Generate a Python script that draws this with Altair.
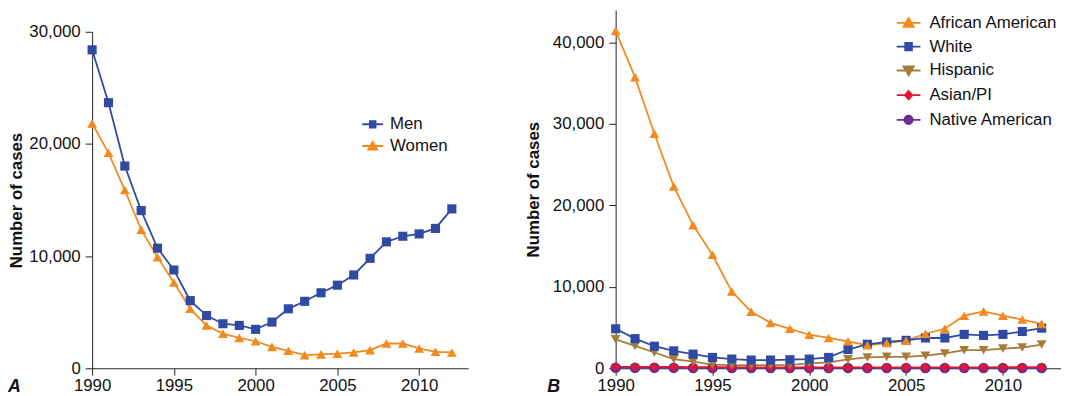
import altair as alt
import pandas as pd

# ---------------- data ----------------
years = list(range(1990, 2013))

men = [28390, 23680, 18030, 14060, 10710, 8760, 6030, 4700, 3970, 3820, 3470, 4120,
       5300, 5970, 6730, 7410, 8320, 9800, 11270, 11770, 11980, 12470, 14210]
women = [21830, 19210, 15890, 12360, 9910, 7650, 5300, 3820, 3090, 2710, 2410, 1910,
         1560, 1170, 1240, 1300, 1410, 1620, 2210, 2210, 1770, 1470, 1410]

african_american = [41420, 35760, 28810, 22340, 17580, 13940, 9420, 6950, 5580, 4850,
                    4120, 3720, 3310, 2830, 3100, 3400, 4240, 4850, 6460, 6990, 6460,
                    5980, 5450]
white = [4850, 3640, 2710, 2140, 1740, 1330, 1130, 1010, 1010, 1050, 1130, 1330, 2300,
         2950, 3230, 3430, 3720, 3720, 4160, 4040, 4160, 4520, 4930]
hispanic = [3560, 2750, 1940, 1130, 810, 450, 400, 380, 380, 420, 610, 730, 1090, 1330,
            1410, 1410, 1540, 1820, 2220, 2220, 2420, 2550, 2910]
asian_pi = [180, 170, 160, 160, 150, 140, 130, 120, 120, 110, 110, 110, 110, 110, 110,
            110, 110, 120, 120, 120, 130, 130, 140]
native_american = [60, 60, 50, 50, 40, 40, 40, 30, 30, 30, 30, 30, 30, 30, 30, 30, 30,
                   30, 30, 40, 40, 40, 40]

x_ticks = [1990, 1995, 2000, 2005, 2010]
y_ticks_a = [0, 10000, 20000, 30000]
y_ticks_b = [0, 10000, 20000, 30000, 40000]

series_a = ["Men", "Women"]
series_b = ["African American", "White", "Hispanic", "Asian/PI", "Native American"]

# ---------------- styles ----------------
BLUE = "#2f4aa3"
ORANGE = "#f28a1f"
BROWN = "#a67c3a"
RED = "#e3162f"
PURPLE = "#6b2d91"
FONT = "Liberation Sans"

colors_a = [BLUE, ORANGE]
shapes_a = ["square", "triangle-up"]
sizes_a = [85, 100]
colors_b = [ORANGE, BLUE, BROWN, RED, PURPLE]
shapes_b = ["triangle-up", "square", "triangle-down", "diamond", "circle"]
sizes_b = [100, 85, 100, 85, 115]


def hatch(rows):
    return "".join(f"M{-w:.3f},{y:.3f}H{w:.3f}" for y, w in rows)


# legend glyphs: a line segment plus a marker drawn with stroke only
LEG_PATH = {
    "square": "M-1,0H1" + hatch([(y, 0.36) for y in (-0.3, -0.18, -0.06, 0.06, 0.18, 0.3)]),
    "triangle-up": "M-1,0H1M0,-0.4L0.42,0.33H-0.42Z" + hatch(
        [(-0.3, 0.056), (-0.18, 0.123), (-0.06, 0.19), (0.06, 0.258), (0.18, 0.325), (0.3, 0.38)]),
    "triangle-down": "M-1,0H1M0,0.4L0.42,-0.33H-0.42Z" + hatch(
        [(0.3, 0.056), (0.18, 0.123), (0.06, 0.19), (-0.06, 0.258), (-0.18, 0.325), (-0.3, 0.38)]),
    "diamond": "M-1,0H1M0,-0.34L0.3,0L0,0.34L-0.3,0Z" + hatch(
        [(-0.22, 0.105), (-0.11, 0.2), (0.11, 0.2), (0.22, 0.105)]),
    "circle": "M-1,0H1M0.34,0A0.34,0.34,0,1,1,-0.34,0A0.34,0.34,0,1,1,0.34,0Z" + hatch(
        [(-0.24, 0.23), (-0.12, 0.31), (0.0, 0.33), (0.12, 0.31), (0.24, 0.23)]),
}


def x_enc():
    return alt.X("year:Q",
                 scale=alt.Scale(domain=[1990, 2013], nice=False, zero=False),
                 axis=alt.Axis(values=x_ticks, format="d", title=None, labelFlush=False,
                               tickSize=7, labelPadding=2, labelFontSize=17, labelFont=FONT,
                               labelColor="#111", domainColor="#222", tickColor="#222",
                               grid=False))


def y_axis(vals, tpad):
    return alt.Axis(values=vals, format=",d", title="Number of cases", grid=False,
                    tickSize=7, labelPadding=5, labelFontSize=17, labelFont=FONT,
                    labelColor="#111", domainColor="#222", tickColor="#222",
                    titleFont=FONT, titleFontSize=17, titleFontWeight="bold",
                    titleColor="#111", titlePadding=tpad)


def panel(df, domain, colors, shapes, sizes, line_order, yscale, yvals, tpad, width, leg,
          letter, letter_x):
    lx, ly, lsize, rowpad, loff = leg
    y = alt.Y("cases:Q", scale=yscale, axis=y_axis(yvals, tpad))
    cmap = dict(zip(domain, colors))
    layers = []
    for name in line_order:
        layers.append(alt.Chart(df).transform_filter(alt.datum.series == name)
                      .mark_line(strokeWidth=1.8, color=cmap[name])
                      .encode(x=x_enc(), y=y, order="year:Q"))
    # points: later legend entries drawn first, so earlier ones sit on top
    for name, c, s, sz in reversed(list(zip(domain, colors, shapes, sizes))):
        layers.append(alt.Chart(df).transform_filter(alt.datum.series == name)
                      .mark_point(filled=True, opacity=1, shape=s, size=sz, color=c)
                      .encode(x=x_enc(), y=y))
    legend = alt.Legend(
        title=None, orient="none", legendX=lx, legendY=ly, padding=0,
        labelFont=FONT, labelFontSize=17, labelColor="#111", labelOffset=loff,
        symbolSize=lsize, rowPadding=rowpad, symbolStrokeWidth=2, symbolOpacity=1)
    # legend-only layer: its points are moved off the plotted range and clipped
    leg_layer = alt.Chart(df).transform_calculate(year="1900").mark_point(
        filled=False, size=lsize, strokeWidth=2, clip=True, opacity=1).encode(
        x=x_enc(), y=y,
        color=alt.Color("series:N", scale=alt.Scale(domain=domain, range=colors), legend=legend),
        shape=alt.Shape("series:N",
                        scale=alt.Scale(domain=domain, range=[LEG_PATH[s] for s in shapes]),
                        legend=legend))
    layers.append(leg_layer)
    lab = alt.Chart(pd.DataFrame({"t": [letter]})).mark_text(
        font=FONT, fontSize=18, fontWeight="bold", fontStyle="italic", align="left",
        baseline="middle", color="#111").encode(
        text="t:N", x=alt.value(letter_x), y=alt.value(381))
    layers.append(lab)
    return alt.layer(*layers).properties(width=width, height=362)


rows_a = []
for name, vals in [("Men", men), ("Women", women)]:
    for yr, v in zip(years, vals):
        rows_a.append({"year": yr, "cases": v, "series": name})
df_a = pd.DataFrame(rows_a)

rows_b = []
for name, vals in [("African American", african_american), ("White", white),
                   ("Hispanic", hispanic), ("Asian/PI", asian_pi),
                   ("Native American", native_american)]:
    for yr, v in zip(years, vals):
        rows_b.append({"year": yr, "cases": v, "series": name})
df_b = pd.DataFrame(rows_b)

panel_a = panel(df_a, series_a, colors_a, shapes_a, sizes_a, ["Women", "Men"],
                alt.Scale(domain=[0, 30000], range=[362, 22], nice=False, zero=True),
                y_ticks_a, 3, 380, (272, 104, 441, 2, 6), "A", -85)
panel_b = panel(df_b, series_b, colors_b, shapes_b, sizes_b,
                ["Native American", "Asian/PI", "Hispanic", "African American", "White"],
                alt.Scale(domain=[0, 44000], nice=False, zero=True),
                y_ticks_b, 10, 450, (283, 0, 576, 3, 8), "B", -69)

chart = alt.hconcat(panel_a, panel_b, spacing=57).resolve_scale(
    color="independent", shape="independent", x="independent", y="independent",
).properties(
    padding={"left": 0, "top": 0, "right": 0, "bottom": 0},
    background="white",
).configure_view(stroke=None)

chart.save("out.html", embed_options={"renderer": "svg", "actions": False})
